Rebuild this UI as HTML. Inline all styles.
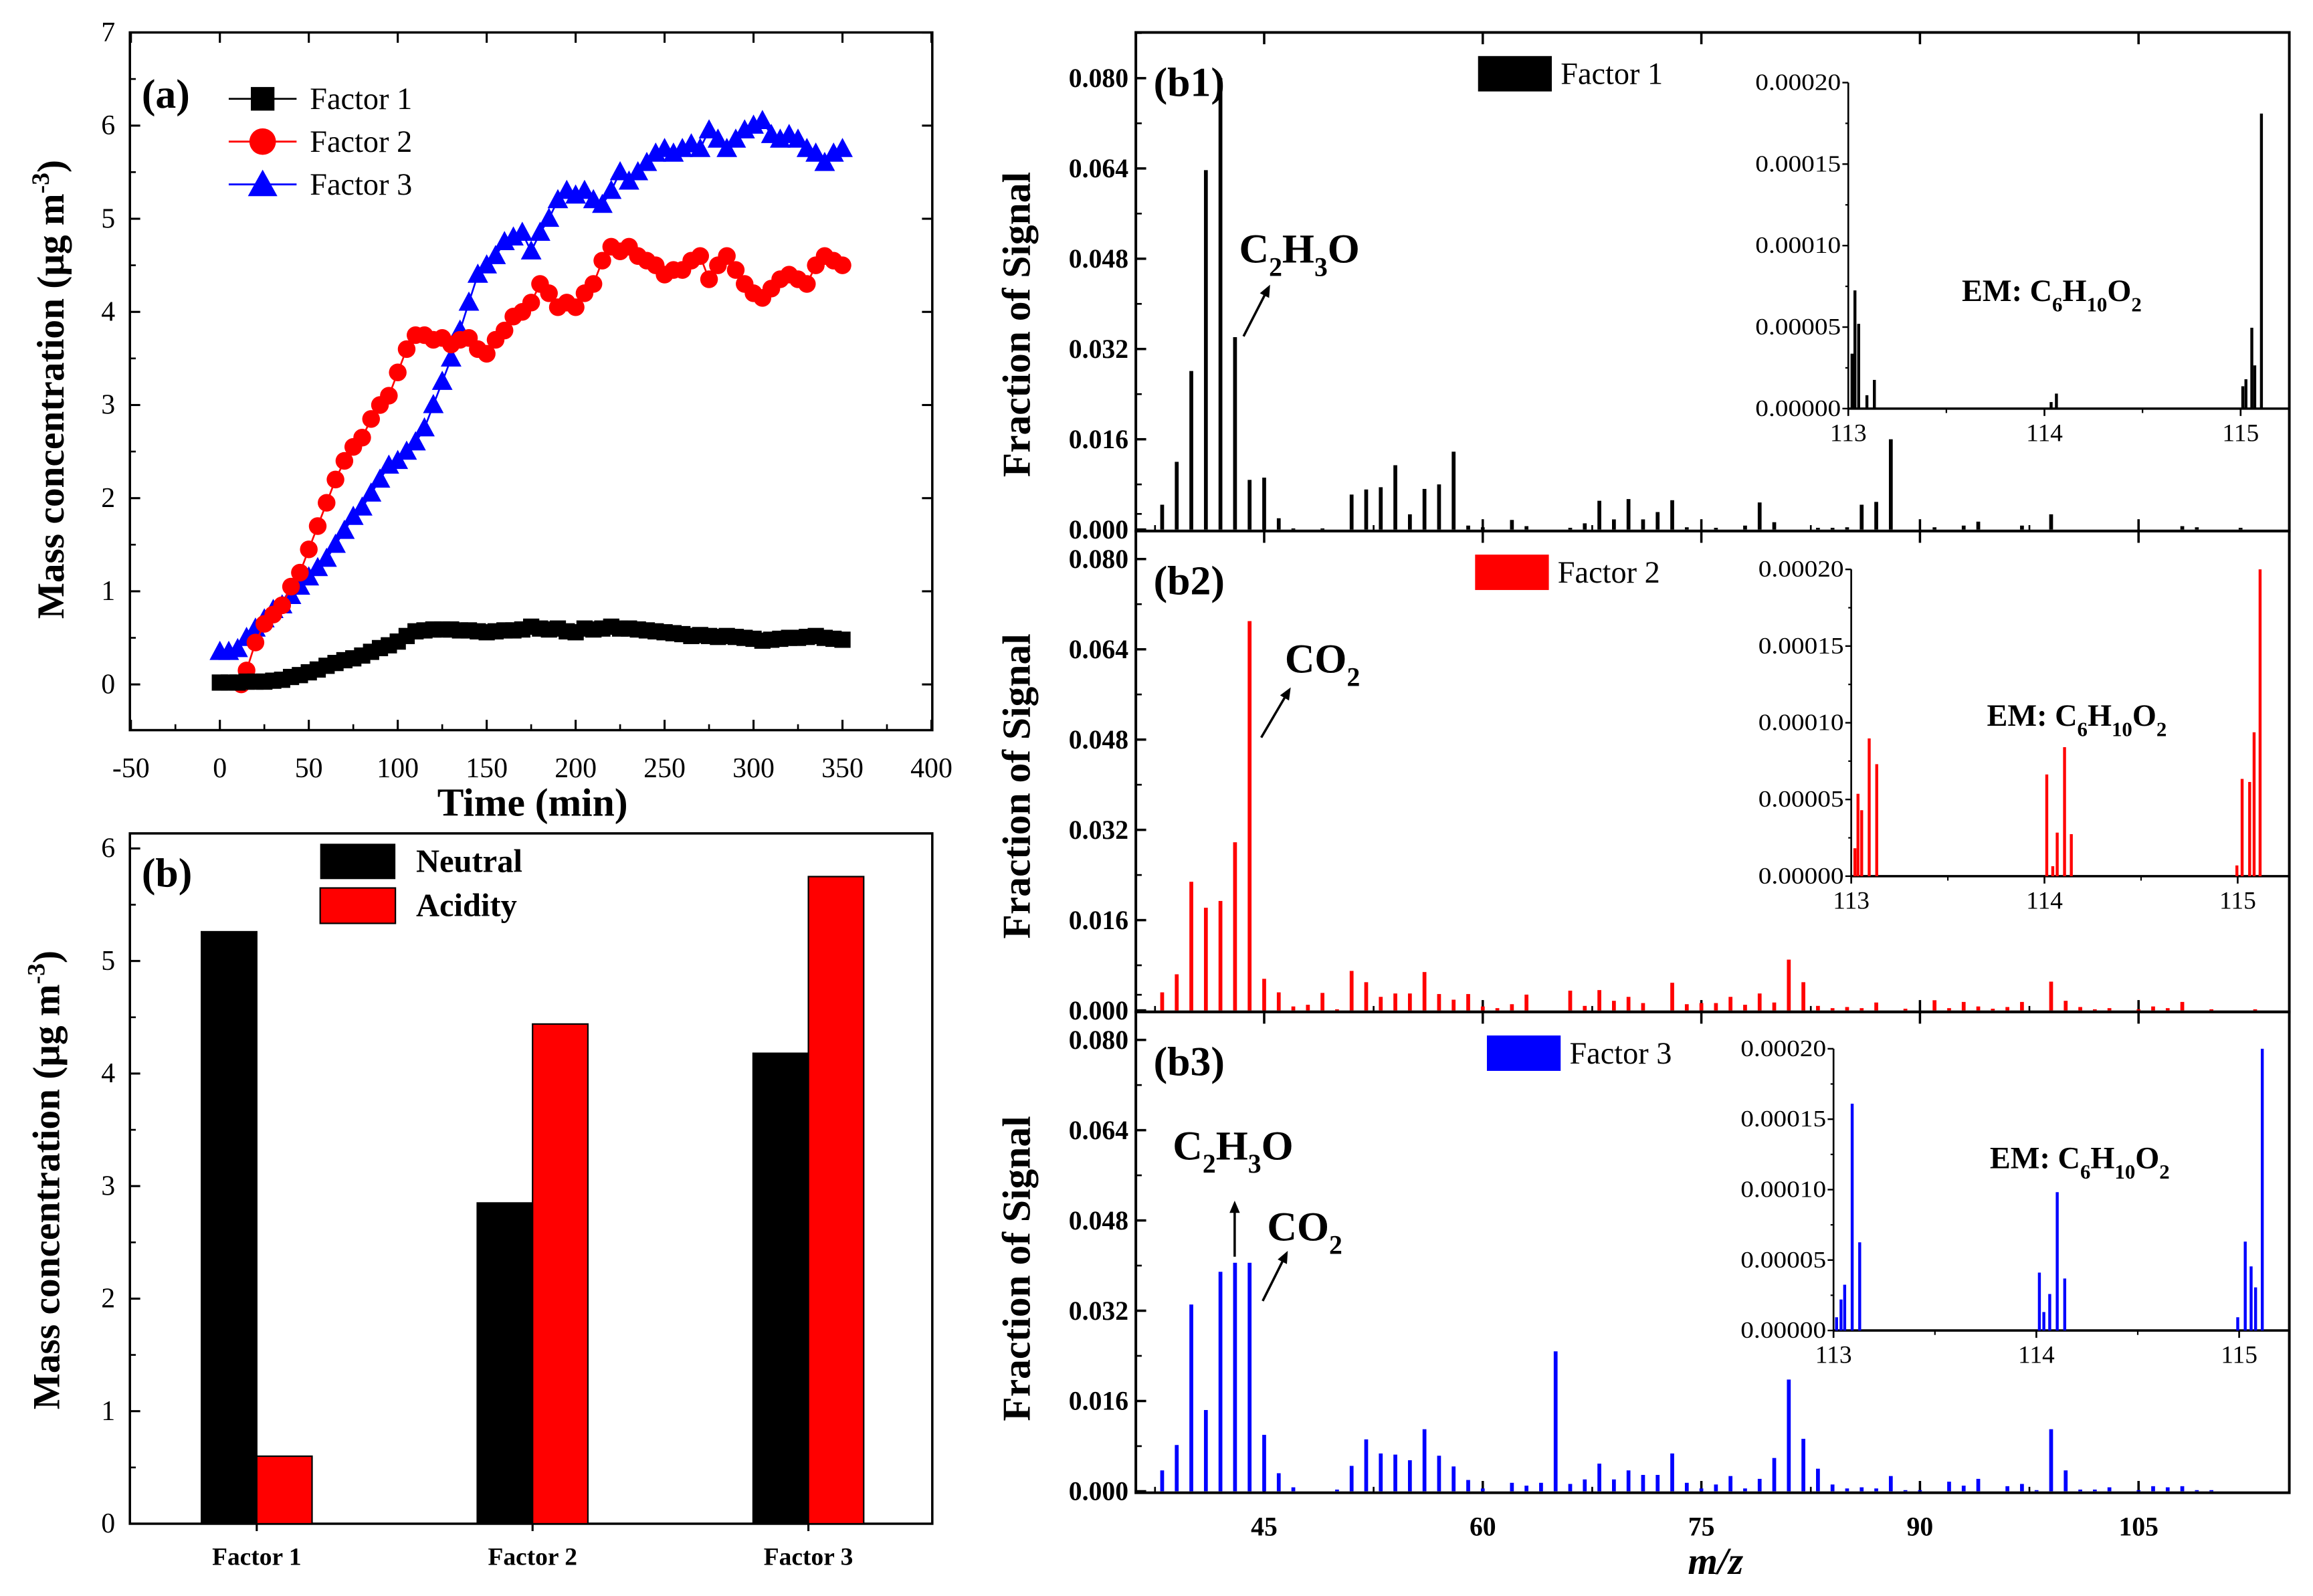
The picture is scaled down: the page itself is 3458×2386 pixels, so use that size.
<!DOCTYPE html>
<html><head><meta charset="utf-8"><style>
html,body{margin:0;padding:0;background:#fff}
svg{display:block}
text{font-family:"Liberation Serif",serif}
</style></head><body>
<svg id="fig" width="3458" height="2386" viewBox="0 0 1568 1082" xmlns="http://www.w3.org/2000/svg"></svg>
<script>
// ---------- Panel (a) data ----------
const timeF1=[0,5,10,15,20,25,30,35,40,45,50,55,60,65,70,75,80,85,90,95,100,105,110,115,120,125,130,135,140,145,150,155,160,165,170,175,180,185,190,195,200,205,210,215,220,225,230,235,240,245,250,255,260,265,270,275,280,285,290,295,300,305,310,315,320,325,330,335,340,345,350];
const factor1Series=[0.02,0.02,0.02,0.03,0.03,0.03,0.04,0.05,0.08,0.1,0.13,0.16,0.2,0.23,0.26,0.28,0.31,0.35,0.39,0.42,0.46,0.52,0.57,0.58,0.59,0.59,0.59,0.58,0.58,0.57,0.56,0.57,0.58,0.58,0.59,0.62,0.6,0.59,0.6,0.57,0.56,0.6,0.59,0.6,0.62,0.6,0.6,0.59,0.58,0.57,0.56,0.55,0.54,0.52,0.53,0.52,0.51,0.52,0.51,0.5,0.49,0.47,0.48,0.49,0.5,0.5,0.51,0.52,0.5,0.49,0.48];
const timeF2=[12,15,20,25,30,35,40,45,50,55,60,65,70,75,80,85,90,95,100,105,110,115,120,125,130,135,140,145,150,155,160,165,170,175,180,185,190,195,200,205,210,215,220,225,230,235,240,245,250,255,260,265,270,275,280,285,290,295,300,305,310,315,320,325,330,335,340,345,350];
const factor2Series=[0.0,0.15,0.45,0.65,0.75,0.85,1.05,1.2,1.45,1.7,1.95,2.2,2.4,2.55,2.65,2.85,3.0,3.1,3.35,3.6,3.75,3.75,3.7,3.72,3.65,3.7,3.72,3.6,3.55,3.7,3.8,3.95,4.0,4.1,4.3,4.2,4.05,4.1,4.05,4.2,4.3,4.55,4.7,4.65,4.7,4.6,4.55,4.5,4.4,4.45,4.45,4.55,4.6,4.35,4.5,4.6,4.45,4.3,4.2,4.15,4.25,4.35,4.4,4.35,4.3,4.5,4.6,4.55,4.5];
const timeF3=[0,5,10,15,20,25,30,35,40,45,50,55,60,65,70,75,80,85,90,95,100,105,110,115,120,125,130,135,140,145,150,155,160,165,170,175,180,185,190,195,200,205,210,215,220,225,230,235,240,245,250,255,260,265,270,275,280,285,290,295,300,305,310,315,320,325,330,335,340,345,350];
const factor3Series=[0.35,0.35,0.38,0.5,0.6,0.7,0.8,0.85,0.95,1.05,1.15,1.25,1.35,1.5,1.65,1.8,1.9,2.05,2.2,2.35,2.4,2.5,2.6,2.75,3.0,3.25,3.5,3.8,4.1,4.4,4.5,4.6,4.75,4.8,4.85,4.65,4.85,5.0,5.2,5.3,5.25,5.3,5.2,5.15,5.3,5.5,5.4,5.5,5.6,5.7,5.75,5.7,5.75,5.8,5.75,5.95,5.85,5.75,5.85,5.95,6.0,6.05,5.9,5.85,5.9,5.85,5.75,5.7,5.6,5.7,5.75];
const timeTicks=[-50,0,50,100,150,200,250,300,350,400];
const concTicksA=[0,1,2,3,4,5,6,7];
// ---------- Panel (b) data ----------
const barCategories=["Factor 1","Factor 2","Factor 3"];
const neutralValues=[5.26,2.85,4.18];
const acidityValues=[0.6,4.44,5.75];
const concTicksB=[0,1,2,3,4,5,6];
// ---------- Mass spectra data ----------
const b1Mz=[38,39,40,41,42,43,44,45,46,47,49,51,52,53,54,55,56,57,58,59,60,62,63,66,67,68,69,70,71,72,73,74,76,78,79,80,83,84,85,86,87,88,91,93,94,97,99,108,109,112];
const b1Val=[0.0044,0.012,0.0281,0.0637,0.08,0.0341,0.0088,0.0092,0.002,0.0002,0.0002,0.0062,0.0071,0.0075,0.0114,0.0027,0.0072,0.008,0.0138,0.0007,0.0004,0.0017,0.0006,0.0003,0.0011,0.0051,0.0018,0.0054,0.0018,0.0031,0.0052,0.0004,0.0003,0.0007,0.0048,0.0013,0.0003,0.0003,0.0004,0.0044,0.0049,0.016,0.0004,0.0007,0.0014,0.0007,0.0027,0.0006,0.0004,0.0003];
const b2Mz=[38,39,40,41,42,43,44,45,46,47,48,49,50,51,52,53,54,55,56,57,58,59,60,61,62,63,66,67,68,69,70,71,73,74,75,76,77,78,79,80,81,82,83,84,85,86,87,89,91,92,93,94,95,96,97,99,100,101,102,103,105,106,107,108,110,113];
const b2Val=[0.0032,0.0064,0.0228,0.0182,0.0194,0.0298,0.069,0.0056,0.0032,0.0007,0.001,0.0031,0.0002,0.007,0.005,0.0024,0.003,0.003,0.0068,0.0029,0.0019,0.0029,0.0007,0.0004,0.0011,0.0028,0.0035,0.0008,0.0036,0.0017,0.0024,0.0013,0.0049,0.0011,0.0013,0.0013,0.0024,0.001,0.003,0.0014,0.009,0.005,0.0008,0.0004,0.0006,0.0004,0.0014,0.0003,0.0018,0.0004,0.0015,0.0007,0.0003,0.0006,0.0015,0.0051,0.0017,0.0006,0.0002,0.0004,0.0002,0.0007,0.0004,0.0015,0.0002,0.0002];
const b3Mz=[38,39,40,41,42,43,44,45,46,47,50,51,52,53,54,55,56,57,58,59,60,62,63,64,65,66,67,68,69,70,71,72,73,74,75,76,77,78,79,80,81,82,83,84,85,86,87,88,89,90,92,93,94,96,97,98,99,100,101,102,103,105,106,107,108,109,110];
const b3Val=[0.0037,0.0082,0.0331,0.0144,0.0389,0.0405,0.0405,0.01,0.0032,0.0007,0.0003,0.0045,0.0092,0.0067,0.0065,0.0055,0.011,0.0063,0.0044,0.002,0.0005,0.0015,0.001,0.0015,0.0248,0.0013,0.0021,0.0049,0.0021,0.0037,0.0029,0.0029,0.0067,0.0015,0.0005,0.0012,0.0027,0.0005,0.0022,0.0059,0.0198,0.0093,0.004,0.0012,0.0005,0.0007,0.0005,0.0027,0.0002,0.0002,0.0017,0.001,0.0022,0.0009,0.0013,0.0002,0.011,0.0037,0.0003,0.0003,0.0007,0.0002,0.0009,0.0007,0.0009,0.0002,0.0002];
const b1InsetMz=[113.019,113.034,113.053,113.095,113.133,114.034,114.061,115.011,115.027,115.057,115.072,115.106];
const b1InsetVal=[0.0000337,0.0000725,0.000052,0.0000082,0.0000176,0.000004,0.0000092,0.0000137,0.000018,0.0000496,0.0000265,0.000181];
const b2InsetMz=[113.019,113.035,113.054,113.093,113.132,114.012,114.043,114.066,114.104,114.139,114.996,115.023,115.062,115.085,115.116];
const b2InsetVal=[0.0000182,0.0000537,0.000043,0.0000898,0.000073,0.0000663,0.0000065,0.0000284,0.0000841,0.0000274,0.000007,0.0000634,0.0000614,0.0000938,0.0002];
const b3InsetMz=[113.015,113.037,113.055,113.092,113.129,114.015,114.037,114.066,114.103,114.14,114.993,115.03,115.059,115.081,115.114];
const b3InsetVal=[0.0000094,0.000022,0.0000325,0.000161,0.0000626,0.0000411,0.0000131,0.0000259,0.0000982,0.0000369,0.0000094,0.0000631,0.0000455,0.0000306,0.0002];
const fracTicks=[0,0.016,0.032,0.048,0.064,0.08];
const mzTicks=[45,60,75,90,105];
const insetYTicks=[0,0.00005,0.0001,0.00015,0.0002];
const insetXTicks=[113,114,115];

const NS="http://www.w3.org/2000/svg";
const svg=document.getElementById('fig');
function mk(tag,attrs,parent,txt){const e=document.createElementNS(NS,tag);for(const k in attrs)e.setAttribute(k,attrs[k]);if(txt!==undefined)e.textContent=txt;(parent||svg).appendChild(e);return e;}
function grp(name){const g=document.createElementNS(NS,'g');


svg.appendChild(g);return g;}
function label(g,name,x,y,s,attrs){const t=mk('text',Object.assign({x:x,y:y},attrs||{}),g,s);


return t;}

// ===== Panel (a) =====
(function(){
const g=grp('panel-a-time-series');
const L=88,R=632,T=22,B=495;
const xA=t=>149+(t-0)*(60.3/50);
const yA=v=>464-v*63.14;
mk('rect',{x:L,y:T,width:R-L,height:B-T,fill:'none',stroke:'#000','stroke-width':1.6},g);
const xt=grp('a-x-axis-ticks');
timeTicks.forEach(t=>{const x=xA(t);mk('line',{x1:x,x2:x,y1:B,y2:B-7,stroke:'#000','stroke-width':1.4},xt);mk('line',{x1:x,x2:x,y1:T,y2:T+7,stroke:'#000','stroke-width':1.4},xt);
if(t<400)mk('line',{x1:x+30.15,x2:x+30.15,y1:B,y2:B-4,stroke:'#000','stroke-width':1.2},xt);
label(xt,'a-x-tick-label',x,527,String(t),{'font-size':19,'text-anchor':'middle'});});
const yt=grp('a-y-axis-ticks');
concTicksA.forEach(v=>{const y=yA(v);mk('line',{x1:L,x2:L+7,y1:y,y2:y,stroke:'#000','stroke-width':1.4},yt);mk('line',{x1:R,x2:R-7,y1:y,y2:y,stroke:'#000','stroke-width':1.4},yt);
if(v<7){mk('line',{x1:L,x2:L+4,y1:y-31.6,y2:y-31.6,stroke:'#000','stroke-width':1.2},yt);}
label(yt,'a-y-tick-label',78,y+6,String(v),{'font-size':19,'text-anchor':'end'});});
label(g,'a-x-axis-title',361,553,'Time (min)',{'font-size':27,'font-weight':'bold','text-anchor':'middle'});
const yt2=label(g,'a-y-axis-title',0,0,'',{'font-size':26,'font-weight':'bold','text-anchor':'middle',transform:'translate(43,264) rotate(-90)'});
yt2.innerHTML='Mass concentration (μg m<tspan dy="-10" font-size="17">-3</tspan><tspan dy="10">)</tspan>';
label(g,'panel-a-label',96,73,'(a)',{'font-size':28,'font-weight':'bold'});
function series(ts,vs,color,shape,name){const s=grp(name);
let d='';ts.forEach((t,i)=>{d+=(i?'L':'M')+xA(t).toFixed(1)+','+yA(vs[i]).toFixed(1);});
mk('path',{d:d,fill:'none',stroke:color,'stroke-width':1.2},s);
ts.forEach((t,i)=>{const x=xA(t),y=yA(vs[i]);let m;
if(shape==='sq')m=mk('rect',{x:x-5.5,y:y-5.5,width:11,height:11,fill:color},s);
else if(shape==='ci')m=mk('circle',{cx:x,cy:y,r:6,fill:color},s);
else m=mk('path',{d:`M${x},${y-7.5}L${x+7},${y+5.5}L${x-7},${y+5.5}Z`,fill:color},s);

});}
series(timeF3,factor3Series,'#0000ff','tr','factor3-series');
series(timeF2,factor2Series,'#ff0000','ci','factor2-series');
series(timeF1,factor1Series,'#000000','sq','factor1-series');
const lg=grp('a-legend');
[['Factor 1','#000','sq',67],['Factor 2','#ff0000','ci',96],['Factor 3','#0000ff','tr',125]].forEach(([n,c,s,y])=>{
mk('line',{x1:155,x2:201,y1:y,y2:y,stroke:c,'stroke-width':1.3},lg);
if(s==='sq')mk('rect',{x:170,y:y-8,width:16,height:16,fill:c},lg);
else if(s==='ci')mk('circle',{cx:178,cy:y,r:9,fill:c},lg);
else mk('path',{d:`M178,${y-10}L188,${y+8}L168,${y+8}Z`,fill:c},lg);
label(lg,'legend-entry',210,y+7,n,{'font-size':21});});
})();

// ===== Panel (b) =====
(function(){
const g=grp('panel-b-bar-chart');
const L=88,R=632,T=565,B=1033;
const yB=v=>B-v*76.3;
const cx=[174,361,548];
mk('rect',{x:L,y:T,width:R-L,height:B-T,fill:'none',stroke:'#000','stroke-width':1.6},g);
const yt=grp('b-y-axis-ticks');
concTicksB.forEach(v=>{const y=yB(v);mk('line',{x1:L,x2:L+7,y1:y,y2:y,stroke:'#000','stroke-width':1.4},yt);
if(v<6)mk('line',{x1:L,x2:L+4,y1:y-38.15,y2:y-38.15,stroke:'#000','stroke-width':1.2},yt);
label(yt,'b-y-tick-label',78,y+6,String(v),{'font-size':19,'text-anchor':'end'});});
barCategories.forEach((c,i)=>{
const bn=mk('rect',{x:cx[i]-37.5,y:yB(neutralValues[i]),width:37.5,height:neutralValues[i]*76.3,fill:'#000',stroke:'#000','stroke-width':1},g);


const ba=mk('rect',{x:cx[i],y:yB(acidityValues[i]),width:37.5,height:acidityValues[i]*76.3,fill:'#ff0000',stroke:'#000','stroke-width':1},g);


mk('line',{x1:cx[i],x2:cx[i],y1:B,y2:B+5,stroke:'#000','stroke-width':1.4},g);
label(g,'b-x-tick-label',cx[i],1061,c,{'font-size':17,'font-weight':'bold','text-anchor':'middle'});});
const yt2=label(g,'b-y-axis-title',0,0,'',{'font-size':26,'font-weight':'bold','text-anchor':'middle',transform:'translate(40,800) rotate(-90)'});
yt2.innerHTML='Mass concentration (μg m<tspan dy="-10" font-size="17">-3</tspan><tspan dy="10">)</tspan>';
label(g,'panel-b-label',96,601,'(b)',{'font-size':28,'font-weight':'bold'});
const lg=grp('b-legend');
mk('rect',{x:217,y:572,width:51,height:24,fill:'#000'},lg);
mk('rect',{x:217,y:602,width:51,height:24,fill:'#ff0000',stroke:'#000','stroke-width':1},lg);
label(lg,'legend-neutral',282,591,'Neutral',{'font-size':22,'font-weight':'bold'});
label(lg,'legend-acidity',282,621,'Acidity',{'font-size':22,'font-weight':'bold'});
})();

// ===== Spectra panels =====
const xM=m=>857+(m-45)*9.88;
function spectrum(o){
const g=grp(o.name);
const L=770,R=1552,T=o.top,B=o.base;
const yS=v=>B-v*(306/0.08);
mk('rect',{x:L,y:T,width:R-L,height:o.bottom-T,fill:'none',stroke:'#000','stroke-width':1.8},g);
const yt=grp(o.name+'-y-ticks');
fracTicks.forEach((v,i)=>{const y=yS(v);mk('line',{x1:L,x2:L+7,y1:y,y2:y,stroke:'#000','stroke-width':1.6},yt);
mk('line',{x1:L,x2:L+4,y1:y-30.6,y2:y-30.6,stroke:'#000','stroke-width':1.2},yt);
label(yt,o.name+'-y-tick-label',765,y+6,v.toFixed(3),{'font-size':18,'font-weight':'bold','text-anchor':'end'});});
mzTicks.forEach(m=>{const x=xM(m);mk('line',{x1:x,x2:x,y1:T,y2:T+8,stroke:'#000','stroke-width':1.6},g);mk('line',{x1:x,x2:x,y1:o.bottom,y2:o.bottom-8,stroke:'#000','stroke-width':1.6},g);
mk('line',{x1:x-74,x2:x-74,y1:o.bottom,y2:o.bottom-4,stroke:'#000','stroke-width':1.2},g);});
o.mz.forEach((m,i)=>{const b=mk('rect',{x:xM(m)-1.3,y:yS(o.val[i]),width:2.6,height:o.val[i]*(306/0.08),fill:o.color},g);

});
// inset
const ig=grp(o.name+'-inset');
const xI=m=>o.i113+(m-113)*o.iu;
const yI=v=>o.ib-v*(o.ib-o.it)/0.0002;
mk('line',{x1:o.i113,x2:o.i113,y1:o.it,y2:o.ib,stroke:'#000','stroke-width':1.2},ig);
mk('line',{x1:o.i113,x2:R,y1:o.ib,y2:o.ib,stroke:'#000','stroke-width':1.6},ig);
insetYTicks.forEach(v=>{const y=yI(v);mk('line',{x1:o.i113,x2:o.i113-4,y1:y,y2:y,stroke:'#000','stroke-width':1.1},ig);
if(v<0.0002)mk('line',{x1:o.i113,x2:o.i113-2,y1:y-(o.ib-o.it)/8,y2:y-(o.ib-o.it)/8,stroke:'#000','stroke-width':1},ig);
label(ig,o.name+'-inset-y-tick-label',o.i113-5,y+5,v.toFixed(5),{'font-size':16,'text-anchor':'end',textLength:58,lengthAdjust:'spacingAndGlyphs'});});
insetXTicks.forEach(m=>{const x=xI(m);mk('line',{x1:x,x2:x,y1:o.ib,y2:o.ib+5,stroke:'#000','stroke-width':1.2},ig);
mk('line',{x1:x+o.iu/2,x2:x+o.iu/2,y1:o.ib,y2:o.ib+3,stroke:'#000','stroke-width':1},ig);
label(ig,o.name+'-inset-x-tick-label',x,o.ib+22,String(m),{'font-size':17,'text-anchor':'middle'});});
o.imz.forEach((m,i)=>{const b=mk('rect',{x:xI(m)-1,y:yI(o.ival[i]),width:2,height:o.ib-yI(o.ival[i]),fill:o.color},ig);

});
const em=label(ig,o.name+'-em-label',o.emx,o.emy,'',{'font-size':21,'font-weight':'bold'});
em.innerHTML='EM: C<tspan dy="7" font-size="14">6</tspan><tspan dy="-7">H</tspan><tspan dy="7" font-size="14">10</tspan><tspan dy="-7">O</tspan><tspan dy="7" font-size="14">2</tspan>';
// legend
const lr=mk('rect',{x:o.lx,y:o.top+16,width:50,height:24,fill:o.color},g);


label(g,o.name+'-legend-text',o.lx+56,o.top+35,o.legend,{'font-size':21});
label(g,o.name+'-panel-label',782,o.top+43,o.tag,{'font-size':28,'font-weight':'bold'});
label(g,o.name+'-y-axis-title',0,0,'Fraction of Signal',{'font-size':27,'font-weight':'bold','text-anchor':'middle',transform:`translate(698,${o.ytc}) rotate(-90)`});
return g;}
function formula(g,name,x,y,parts){const t=label(g,name,x,y,'',{'font-size':28,'font-weight':'bold'});t.innerHTML=parts;return t;}
function arrow(g,x1,y1,x2,y2){const a=Math.atan2(y2-y1,x2-x1),h=9;
mk('line',{x1:x1,y1:y1,x2:x2-Math.cos(a)*6,y2:y2-Math.sin(a)*6,stroke:'#000','stroke-width':1.6},g);
mk('path',{d:`M${x2},${y2}L${x2-h*Math.cos(a-0.4)},${y2-h*Math.sin(a-0.4)}L${x2-h*Math.cos(a+0.4)},${y2-h*Math.sin(a+0.4)}Z`,fill:'#000'},g);}
const C2H3O='C<tspan dy="9" font-size="18">2</tspan><tspan dy="-9">H</tspan><tspan dy="9" font-size="18">3</tspan><tspan dy="-9">O</tspan>';
const CO2='CO<tspan dy="9" font-size="18">2</tspan>';

const g1=spectrum({name:'spectrum-b1',top:22,base:359,bottom:360,color:'#000',mz:b1Mz,val:b1Val,imz:b1InsetMz,ival:b1InsetVal,i113:1253,iu:133,it:56,ib:277,emx:1330,emy:204,lx:1002,legend:'Factor 1',tag:'(b1)',ytc:220});
formula(g1,'annotation-c2h3o',840,178,C2H3O);arrow(g1,843,228,861,193);
const g2=spectrum({name:'spectrum-b2',top:360,base:685,bottom:686,color:'#ff0000',mz:b2Mz,val:b2Val,imz:b2InsetMz,ival:b2InsetVal,i113:1255,iu:131,it:386,ib:594,emx:1347,emy:492,lx:1000,legend:'Factor 2',tag:'(b2)',ytc:533});
formula(g2,'annotation-co2',871,456,CO2);arrow(g2,855,500,875,466);
const g3=spectrum({name:'spectrum-b3',top:686,base:1011,bottom:1012,color:'#0000ff',mz:b3Mz,val:b3Val,imz:b3InsetMz,ival:b3InsetVal,i113:1243,iu:137.5,it:711,ib:902,emx:1349,emy:792,lx:1008,legend:'Factor 3',tag:'(b3)',ytc:860});
formula(g3,'annotation-c2h3o-b3',795,786,C2H3O);arrow(g3,837,852,837,814);
formula(g3,'annotation-co2-b3',859,841,CO2);arrow(g3,856,882,873,848);
const xg=grp('mz-axis');
mzTicks.forEach(m=>label(xg,'mz-tick-label',xM(m),1041,String(m),{'font-size':18,'font-weight':'bold','text-anchor':'middle'}));
label(xg,'mz-axis-title',1163,1067,'m/z',{'font-size':26,'font-weight':'bold','font-style':'italic','text-anchor':'middle'});
</script>
</body></html>
